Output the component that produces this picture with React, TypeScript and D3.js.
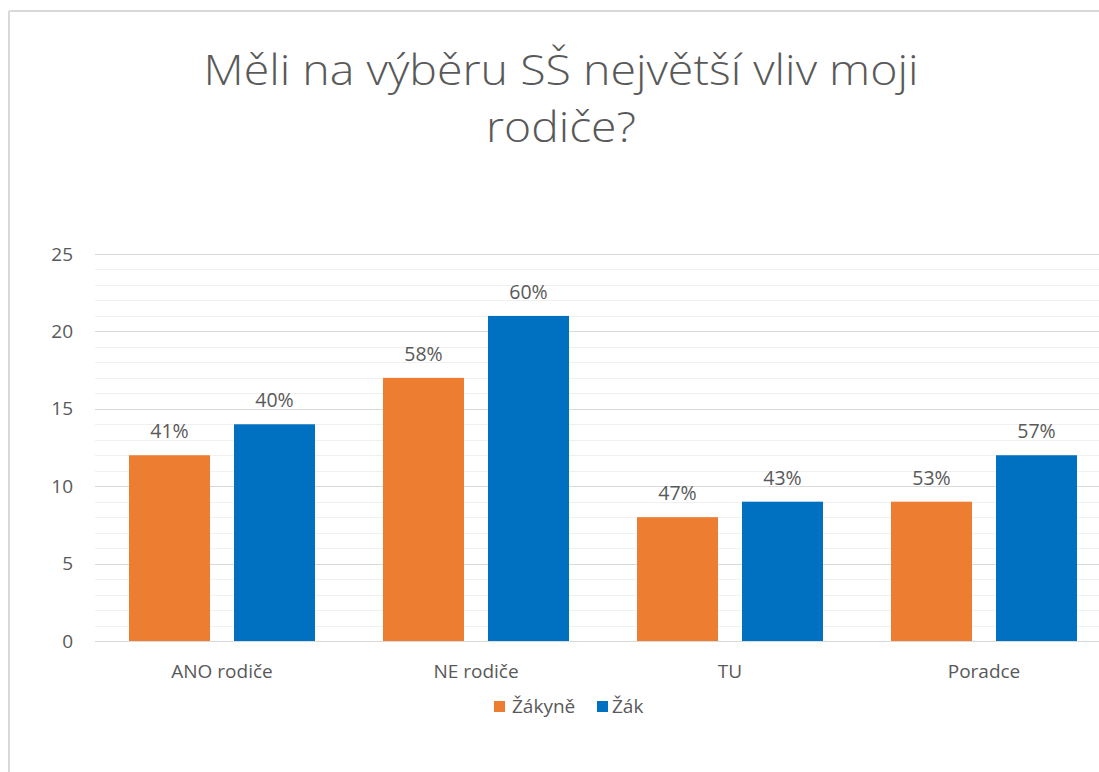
import React from "react";
import * as d3 from "d3";

const categories = ["ANO rodiče", "NE rodiče", "TU", "Poradce"];
const seriesNames = ["Žákyně", "Žák"];
const zakyne = [12, 17, 8, 9];
const zak = [14, 21, 9, 12];
const zakyneLabels = ["41%", "58%", "47%", "53%"];
const zakLabels = ["40%", "60%", "43%", "57%"];
const yTicks = [0, 5, 10, 15, 20, 25];
const titleLines = ["Měli na výběru SŠ největší vliv moji", "rodiče?"];

const W = 1099;
const H = 772;
const COLORS = ["#ED7D31", "#0070C0"];
const TEXT = "#595959";
const FONT = "'Open Sans', 'Noto Sans', sans-serif";

export default function App() {
  const plotLeft = 95;
  const plotRight = 95 + 4 * 254;
  const x0 = d3.scaleBand<string>().domain(categories).range([plotLeft, plotRight]).paddingInner(0).paddingOuter(0);
  const x1 = d3.scaleBand<string>().domain(seriesNames).range([34, 254 - 34]).paddingInner(24 / 186 * 2 / (1 + 24 / 186)).paddingOuter(0);
  const y = d3.scaleLinear().domain([0, 25]).range([641, 254]);
  const minor = d3.range(0, 25.001, 1);
  const series = [zakyne, zak];
  const labels = [zakyneLabels, zakLabels];

  return (
    <svg width={W} height={H} style={{ position: "absolute", left: 0, top: 0, background: "#fff" }} fontFamily={FONT}>
      <rect x={0} y={0} width={W} height={H} fill="#fff" />
      {/* border */}
      <line x1={9} y1={11} x2={W + 5} y2={11} stroke="#d9d9d9" strokeWidth={2} />
      <line x1={9} y1={11} x2={9} y2={H + 5} stroke="#d9d9d9" strokeWidth={2} />
      {/* title */}
      <text x={561} y={85} textAnchor="middle" fontSize={43} fontWeight={300} fill={TEXT} textLength={715} lengthAdjust="spacingAndGlyphs">{titleLines[0]}</text>
      <text x={561} y={142} textAnchor="middle" fontSize={43} fontWeight={300} fill={TEXT} textLength={150} lengthAdjust="spacingAndGlyphs">{titleLines[1]}</text>
      {/* minor gridlines */}
      {minor.filter((v) => v % 5 !== 0).map((v) => (
        <line key={"m" + v} x1={plotLeft} x2={W} y1={Math.round(y(v)) + 0.5} y2={Math.round(y(v)) + 0.5} stroke="#f0f0f0" strokeWidth={1} />
      ))}
      {yTicks.map((v) => (
        <line key={"g" + v} x1={plotLeft} x2={W} y1={Math.round(y(v)) + 0.5} y2={Math.round(y(v)) + 0.5} stroke="#d9d9d9" strokeWidth={1} />
      ))}
      {yTicks.map((v) => (
        <text key={"t" + v} x={73} y={y(v)} dy="0.35em" textAnchor="end" fontSize={19} fill={TEXT}>{v}</text>
      ))}
      {/* bars */}
      {categories.map((c, i) => (
        <g key={c} transform={`translate(${x0(c)},0)`}>
          {seriesNames.map((s, j) => {
            const v = series[j][i];
            const bx = x1(s)!;
            const bw = x1.bandwidth();
            return (
              <g key={s}>
                <rect x={bx} y={y(v)} width={bw} height={y(0) - y(v)} fill={COLORS[j]} />
                <text x={bx + bw / 2} y={y(v) - 17} textAnchor="middle" fontSize={19.5} fill={TEXT}>{labels[j][i]}</text>
              </g>
            );
          })}
          <text x={x0.bandwidth() / 2} y={678} textAnchor="middle" fontSize={19} fill={TEXT}>{c}</text>
        </g>
      ))}
      {/* legend */}
      <g>
        <rect x={494} y={701} width={11} height={11} fill={COLORS[0]} />
        <text x={512} y={713} fontSize={19} fill={TEXT}>{seriesNames[0]}</text>
        <rect x={597} y={701} width={11} height={11} fill={COLORS[1]} />
        <text x={612} y={713} fontSize={19} fill={TEXT}>{seriesNames[1]}</text>
      </g>
    </svg>
  );
}
